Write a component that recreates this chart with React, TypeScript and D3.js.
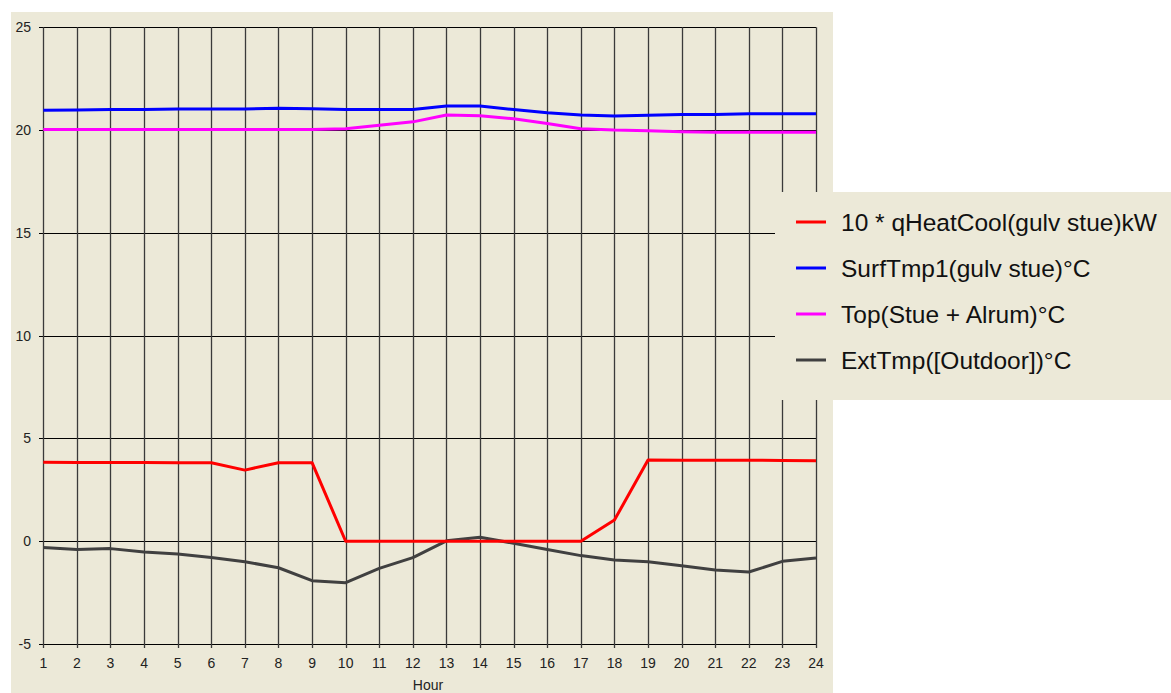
import React from "react";
import * as d3 from "d3";

const hours = [1,2,3,4,5,6,7,8,9,10,11,12,13,14,15,16,17,18,19,20,21,22,23,24];
const qHeatCool = [3.84,3.83,3.83,3.83,3.82,3.82,3.46,3.82,3.82,0,0,0,0,0,0,0,0,1.03,3.95,3.94,3.94,3.94,3.93,3.92];
const surfTmp = [20.97,20.98,21.0,21.0,21.02,21.03,21.03,21.06,21.04,21.0,21.0,21.0,21.17,21.17,21.0,20.84,20.73,20.68,20.72,20.76,20.76,20.79,20.8,20.8];
const topTmp = [20.03,20.03,20.03,20.03,20.03,20.03,20.03,20.03,20.03,20.06,20.23,20.4,20.73,20.7,20.55,20.32,20.07,20.0,19.97,19.92,19.89,19.89,19.89,19.89];
const extTmp = [-0.3,-0.4,-0.36,-0.53,-0.62,-0.79,-1.0,-1.29,-1.92,-2.02,-1.32,-0.8,0.02,0.19,-0.1,-0.4,-0.7,-0.91,-1.0,-1.19,-1.4,-1.5,-0.98,-0.82];
const yTicks = [-5,0,5,10,15,20,25];
const seriesNames = ["10 * qHeatCool(gulv stue)kW","SurfTmp1(gulv stue)°C","Top(Stue + Alrum)°C","ExtTmp([Outdoor])°C"];
const seriesColors = ["#ff0000","#0000ff","#ff00ff","#404040"];
const seriesData = [qHeatCool, surfTmp, topTmp, extTmp];

export default function App() {
  const x = d3.scaleLinear().domain([1, 24]).range([43.3, 816]);
  const y = d3.scaleLinear().domain([-5, 25]).range([644, 27.3]);
  const line = d3.line<number>().x((_, i) => x(hours[i])).y((v) => y(v));
  const font = "'Liberation Sans', Arial, sans-serif";
  const bg = "#ece9d8";
  const drawOrder = [3, 0, 1, 2];
  return (
    <svg width={1171} height={693} style={{ position: "fixed", left: 0, top: 0 }} fontFamily={font}>
      <rect x={0} y={0} width={1171} height={693} fill="#ffffff" />
      <rect x={11} y={12} width={822} height={681} fill={bg} />
      {yTicks.map((t) => (
        <g key={"y" + t}>
          <line x1={39} x2={816} y1={Math.round(y(t)) + 0.5} y2={Math.round(y(t)) + 0.5} stroke="#000" strokeWidth={1} />
          <text x={31} y={y(t) + 5} fontSize={14} textAnchor="end" fill="#222">{t}</text>
        </g>
      ))}
      {hours.map((h) => (
        <g key={"x" + h}>
          <line x1={Math.round(x(h)) + 0.5} x2={Math.round(x(h)) + 0.5} y1={y(25)} y2={648} stroke="#3a3a3a" strokeWidth={1.3} />
          <text x={x(h)} y={668} fontSize={14} textAnchor="middle" fill="#222">{h}</text>
        </g>
      ))}
      <text x={428} y={690} fontSize={14} textAnchor="middle" fill="#222">Hour</text>
      {drawOrder.map((i) => (
        <path key={"s" + i} d={line(seriesData[i]) || ""} fill="none" stroke={seriesColors[i]} strokeWidth={3} strokeLinejoin="round" />
      ))}
      <rect x={775} y={192} width={400} height={208} fill={bg} />
      {seriesNames.map((n, i) => (
        <g key={"l" + i}>
          <line x1={796} x2={826} y1={222 + i * 46} y2={222 + i * 46} stroke={seriesColors[i]} strokeWidth={3} />
          <text x={841} y={222 + i * 46 + 8.5} fontSize={24.5} fill="#111">{n}</text>
        </g>
      ))}
    </svg>
  );
}
